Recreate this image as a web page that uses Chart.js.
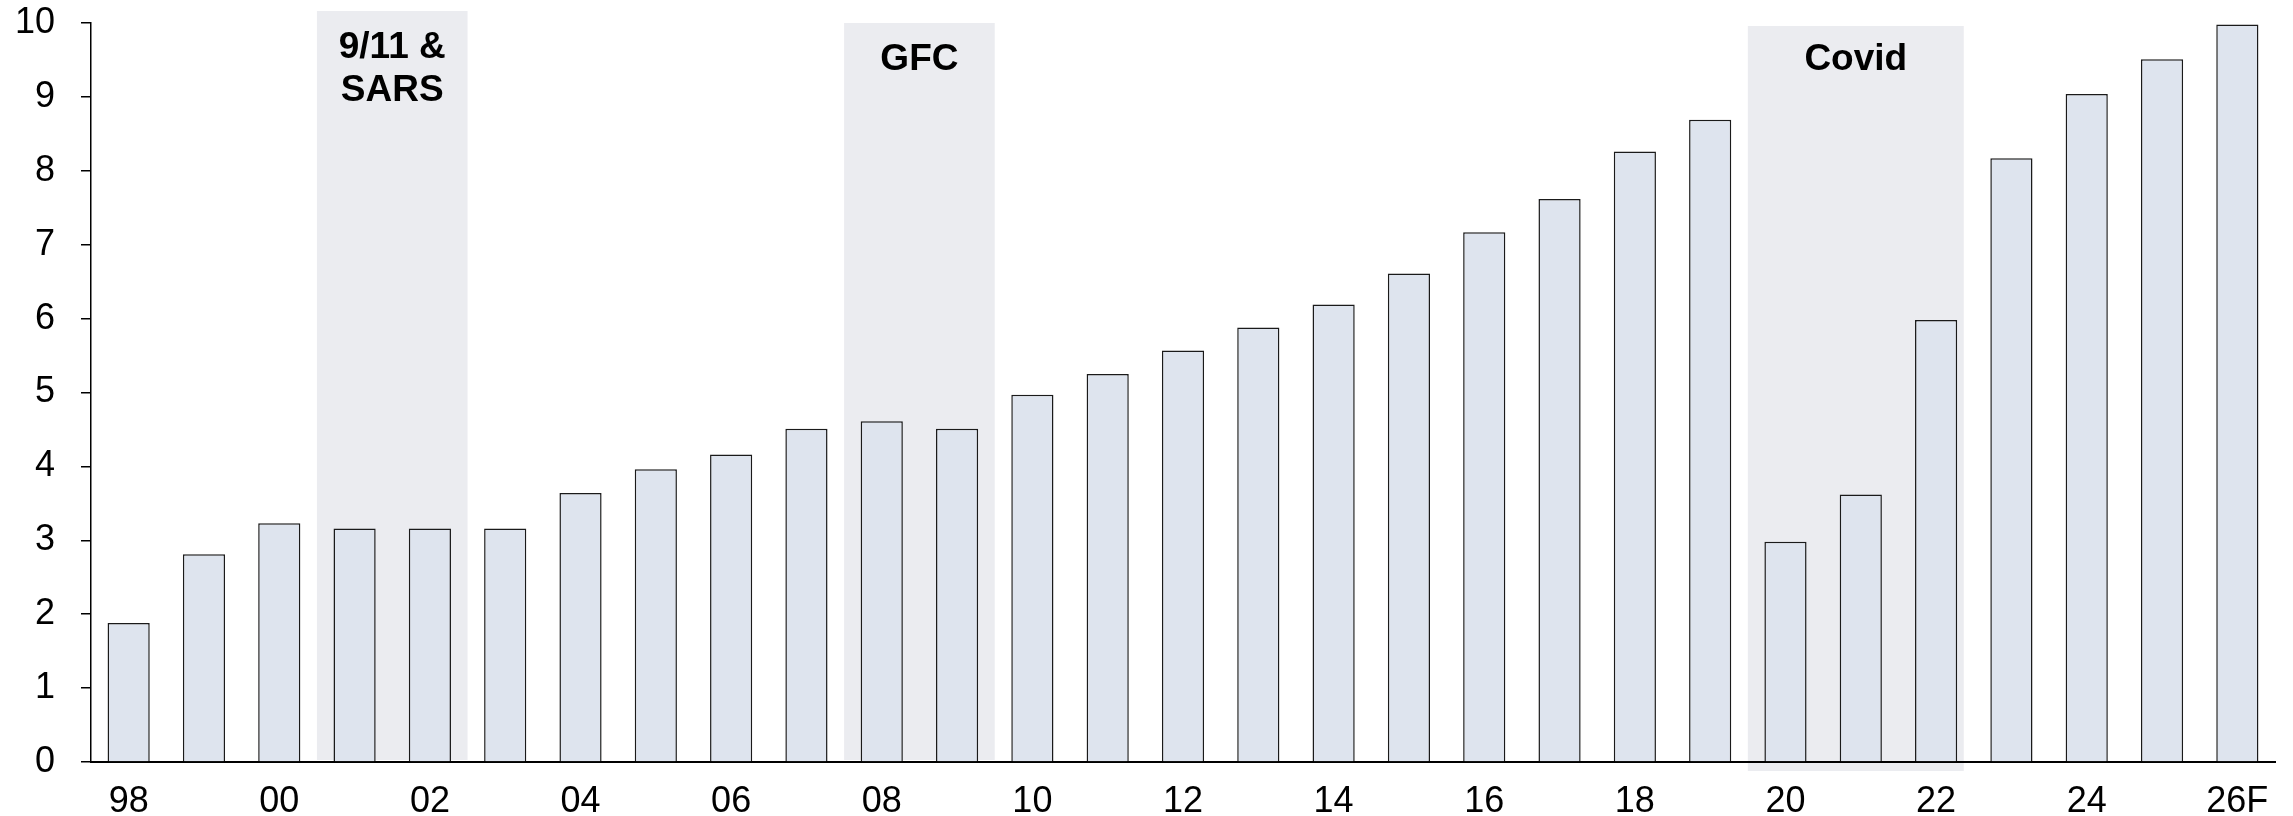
<!DOCTYPE html>
<html>
<head>
<meta charset="utf-8">
<script src="https://cdn.jsdelivr.net/npm/chart.js@4.4.1/dist/chart.umd.min.js"></script>
<style>
  html, body { margin: 0; padding: 0; background: #fff; }
  #wrap { width: 2293px; height: 816px; }
</style>
</head>
<body>
<div id="wrap"><canvas id="bar_chart" width="2293" height="816"></canvas></div>
<script>
// years shown on the axis (only every second one gets a label)
var years = ["98","99","00","01","02","03","04","05","06","07","08","09","10","11","12",
             "13","14","15","16","17","18","19","20","21","22","23","24","25","26F"];

var values = [1.88, 2.81, 3.23, 3.16, 3.16, 3.16, 3.64, 3.96, 4.16, 4.51, 4.61, 4.51, 4.97, 5.25, 5.57,
              5.88, 6.19, 6.61, 7.17, 7.62, 8.26, 8.69, 2.98, 3.62, 5.98, 8.17, 9.04, 9.51, 9.98];

var y_ticks = [0, 1, 2, 3, 4, 5, 6, 7, 8, 9, 10];

// shaded crisis periods: first year, last year, caption lines
var period_names = [["9/11 &", "SARS"], ["GFC"], ["Covid"]];
var period_start = ["01", "08", "20"];
var period_end   = ["02", "09", "22"];

var font_family = "'Liberation Sans', Arial, sans-serif";

var shadePlugin = {
  id: 'shade',
  beforeDraw: function(chart) {
    var ctx = chart.ctx;
    var x = chart.scales.x;
    var area = chart.chartArea;
    var step = x.getPixelForValue(1) - x.getPixelForValue(0);
    // little tweaks so the boxes sit like in the original
    var tops = [11, 23, 26];
    var bottoms = [area.bottom - 2, area.bottom - 2, area.bottom + 9];
    var extra_right = [0, 0, -10];

    ctx.save();
    for (var p = 0; p < period_names.length; p++) {
      var left = x.getPixelForValue(years.indexOf(period_start[p])) - step / 2;
      var right = x.getPixelForValue(years.indexOf(period_end[p])) + step / 2 + extra_right[p];
      ctx.fillStyle = "#EBECF0";
      ctx.fillRect(left, tops[p], right - left, bottoms[p] - tops[p]);

      ctx.fillStyle = "#000";
      ctx.font = "bold 37px " + font_family;
      ctx.textAlign = "center";
      ctx.textBaseline = "alphabetic";
      var lines = period_names[p];
      for (var l = 0; l < lines.length; l++) {
        ctx.fillText(lines[l], (left + right) / 2, 58 + l * 43 + (lines.length == 1 ? 12 : 0));
      }
    }
    ctx.restore();
  }
};

var ctx = document.getElementById("bar_chart");
var bar_chart = new Chart(ctx, {
  type: 'bar',
  data: {
    labels: years,
    datasets: [{
      data: values,
      backgroundColor: "#DEE4EE",
      borderColor: "#1a1a1a",
      borderWidth: 1.5,
      barPercentage: 0.56,
      categoryPercentage: 1.0
    }]
  },
  options: {
    responsive: false,
    animation: false,
    devicePixelRatio: 1,
    layout: { padding: { top: 23, right: 18, left: 0, bottom: 0 } },
    plugins: {
      legend: { display: false },
      tooltip: { enabled: false }
    },
    scales: {
      x: {
        grid: { display: false, drawTicks: false },
        border: { display: true, color: "#000", width: 2 },
        ticks: {
          color: "#000",
          font: { family: font_family, size: 36 },
          padding: 18,
          maxRotation: 0,
          autoSkip: false,
          callback: function(val, index) {
            return index % 2 == 0 ? years[index] : "";
          }
        },
        afterFit: function(scale) {
          scale.height = 54;
          scale.paddingLeft = 0;
          scale.paddingRight = 0;
        }
      },
      y: {
        min: 0,
        max: 10,
        afterBuildTicks: function(scale) {
          scale.ticks = y_ticks.map(function(v) { return { value: v }; });
        },
        grid: { drawOnChartArea: false, drawTicks: true, tickLength: 10, color: "#000", lineWidth: 1.5 },
        border: { display: true, color: "#000", width: 1.5 },
        ticks: {
          color: "#000",
          font: { family: font_family, size: 36 },
          padding: 26
        },
        afterFit: function(scale) {
          scale.width = 91;
          scale.paddingTop = 0;
          scale.paddingBottom = 0;
        }
      }
    }
  },
  plugins: [shadePlugin]
});
</script>
</body>
</html>
